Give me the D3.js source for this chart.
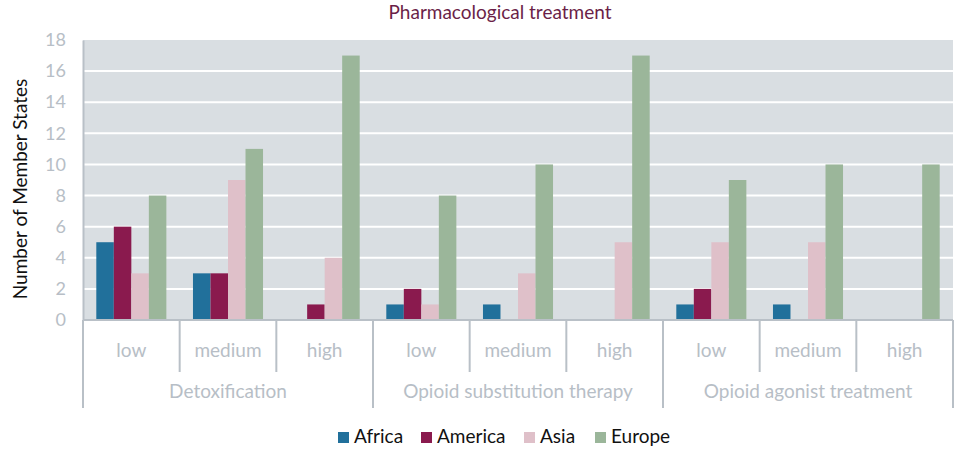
<!DOCTYPE html>
<html><head><meta charset="utf-8">
<script src="https://cdn.jsdelivr.net/npm/d3@7"></script>
<style>body{margin:0;background:#fff;} svg{display:block;font-family:Lato, "Open Sans", sans-serif;}</style>
</head><body>
<svg id="chart" width="965" height="455"></svg>
<script>
const groups = ["Detoxification", "Opioid substitution therapy", "Opioid agonist treatment"];
const levels = ["low", "medium", "high"];
const series = ["Africa", "America", "Asia", "Europe"];
const colors = ["#21709b", "#8a1a4e", "#dfc0c9", "#9bb69a"];
const yTicks = [0, 2, 4, 6, 8, 10, 12, 14, 16, 18];
// values per subgroup (group x level), order Africa, America, Asia, Europe
const africa  = [5, 3, 0, 1, 1, 0, 1, 1, 0];
const america = [6, 3, 1, 2, 0, 0, 2, 0, 0];
const asia    = [3, 9, 4, 1, 3, 5, 5, 5, 0];
const europe  = [8, 11, 17, 8, 10, 17, 9, 10, 10];
const seriesValues = [africa, america, asia, europe];

const svg = d3.select("#chart");
const L = 83, R = 953, T = 40, B = 320;
const keys = [];
groups.forEach(g => levels.forEach(l => keys.push(g + "|" + l)));
const x0 = d3.scaleBand().domain(keys).range([L, R]).padding(0);
const x1 = d3.scaleBand().domain(series).range([0, x0.bandwidth()]).paddingInner(0).paddingOuter(0.76);
const y = d3.scaleLinear().domain([0, 18]).range([B, T]);
const gridC = "#b9c0c7", labC = "#b7bec6";

svg.append("rect").attr("x", L).attr("y", T).attr("width", R - L).attr("height", B - T).attr("fill", "#d9dee2");
svg.append("g").selectAll("line").data(yTicks.filter(d => d > 0 && d < 18)).join("line")
  .attr("x1", L).attr("x2", R).attr("y1", d => y(d)).attr("y2", d => y(d))
  .attr("stroke", "#fff").attr("stroke-width", 2);

// y axis
const yAxis = d3.axisLeft(y).tickValues(yTicks).tickSize(0).tickPadding(17);
const yg = svg.append("g").attr("transform", `translate(${L},0)`).call(yAxis);
yg.select(".domain").attr("stroke", gridC).attr("stroke-width", 2);
yg.selectAll("text").attr("fill", labC).attr("font-size", 18).attr("font-family", "Lato, sans-serif");

// bars
const barG = svg.append("g");
keys.forEach((k, i) => {
  series.forEach((s, j) => {
    const v = seriesValues[j][i];
    if (v <= 0) return;
    barG.append("rect").attr("x", x0(k) + x1(s)).attr("width", x1.bandwidth())
      .attr("y", y(v)).attr("height", y(0) - y(v)).attr("fill", colors[j]);
  });
});

// x axis
svg.append("line").attr("x1", L).attr("x2", R).attr("y1", B).attr("y2", B).attr("stroke", gridC).attr("stroke-width", 2);
const xg = svg.append("g");
keys.forEach((k, i) => {
  const lv = k.split("|")[1];
  xg.append("text").attr("x", x0(k) + x0.bandwidth() / 2).attr("y", 357).attr("text-anchor", "middle")
    .attr("fill", labC).attr("font-size", 19).text(lv);
  if (i > 0 && i % 3 !== 0) {
    xg.append("line").attr("x1", x0(k)).attr("x2", x0(k)).attr("y1", B).attr("y2", 372).attr("stroke", gridC).attr("stroke-width", 2);
  }
});
const bounds = [0, 3, 6].map(i => x0(keys[i])).concat([R]);
bounds.forEach(bx => {
  xg.append("line").attr("x1", bx).attr("x2", bx).attr("y1", B).attr("y2", 408).attr("stroke", gridC).attr("stroke-width", 2);
});
groups.forEach((g, gi) => {
  xg.append("text").attr("x", (bounds[gi] + bounds[gi + 1]) / 2).attr("y", 398).attr("text-anchor", "middle")
    .attr("fill", labC).attr("font-size", 19).text(g);
});

// title
svg.append("text").attr("x", 500).attr("y", 19).attr("text-anchor", "middle").attr("fill", "#6b1f48")
  .attr("font-size", 19).text("Pharmacological treatment");

// y title
svg.append("text").attr("transform", "translate(27,189) rotate(-90)").attr("text-anchor", "middle")
  .attr("fill", "#111").attr("font-size", 19).text("Number of Member States");

// legend
const legX = [338, 421, 524, 595];
const lg = svg.append("g");
series.forEach((s, j) => {
  lg.append("rect").attr("x", legX[j]).attr("y", 432).attr("width", 11).attr("height", 11).attr("fill", colors[j]);
  lg.append("text").attr("x", legX[j] + 16).attr("y", 443).attr("fill", "#111").attr("font-size", 19).text(s);
});
</script>
</body></html>
